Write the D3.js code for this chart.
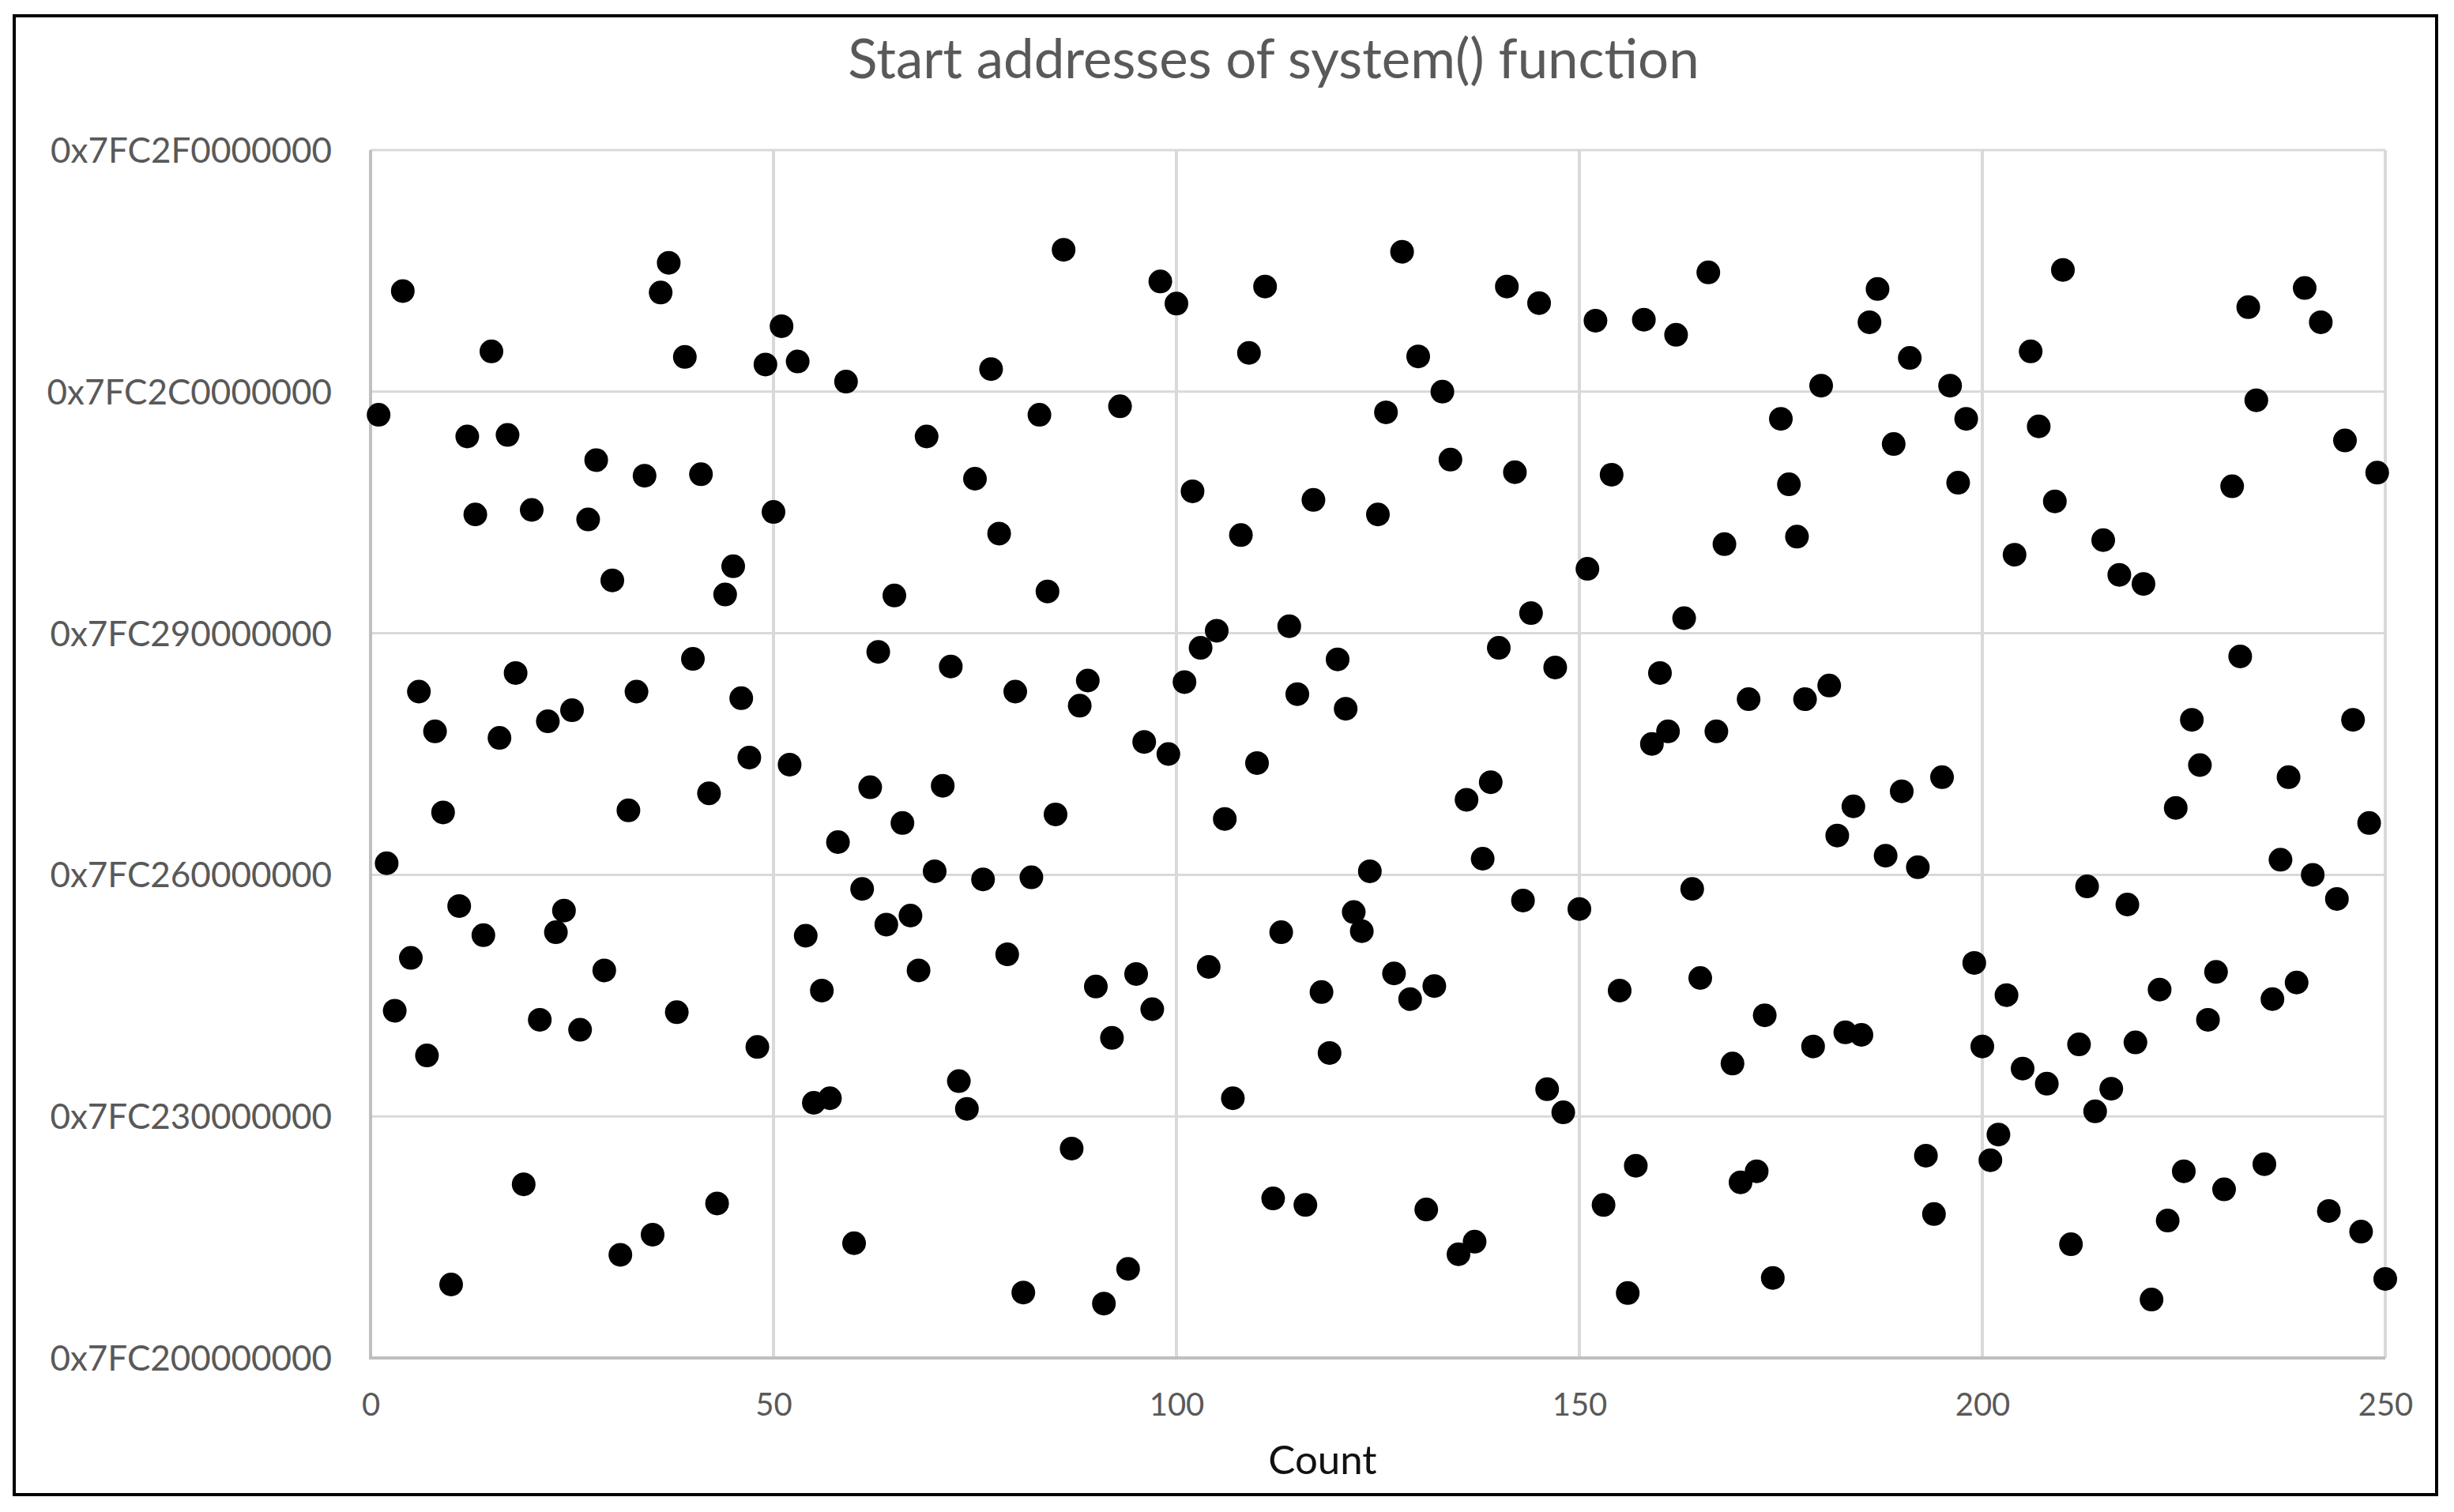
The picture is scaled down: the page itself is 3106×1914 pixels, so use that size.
<!DOCTYPE html>
<html>
<head>
<meta charset="utf-8">
<script src="https://cdn.jsdelivr.net/npm/d3@7"></script>
<style>
  html, body { margin: 0; padding: 0; background: #ffffff; }
  svg { display: block; }
</style>
</head>
<body>
<script>
// ---------- DATA ----------
const chartTitle = "Start addresses of system() function";
const xAxisTitle = "Count";

// x ticks (Count)
const xTickValues = [0, 50, 100, 150, 200, 250];
const xTickLabels = ["0", "50", "100", "150", "200", "250"];

// y ticks: offset from 0x7FC200000000 in units of 0x1000000
const yTickValues = [0, 48, 96, 144, 192, 240];
const yTickLabels = ["0x7FC200000000", "0x7FC230000000", "0x7FC260000000",
                     "0x7FC290000000", "0x7FC2C0000000", "0x7FC2F0000000"];

// start address of system() per run (Count = index + 1),
// expressed as offset from 0x7FC200000000 in units of 0x1000000; null = no point
const addrOffsets = [
  187.4, 98.3, 69.0, 212.0, 79.5, 132.4, 60.1, 124.5, 108.4, 14.6,
  89.8, 183.1, 167.6, 84.0, 200.0, 123.2, 183.4, 136.1, 34.5, 168.5,
  67.2, 126.5, 84.6, 88.9, 128.7, 65.2, 166.6, 178.4, 77.0, 154.5,
  20.5, 108.8, 132.4, 175.3, 24.5, 211.7, 217.6, 68.7, 198.9, 138.9,
  175.6, 112.2, 30.7, 151.7, 157.3, 131.1, 119.3, 61.8, 197.4, 168.1,
  205.0, 117.9, 198.0, 83.9, 50.7, 73.0, 51.6, 102.5, 194.0, 22.8,
  93.2, 113.4, 140.3, 86.1, 151.5, 106.3, 87.9, 77.0, 183.1, 96.7,
  113.7, 137.4, 55.0, 49.5, 174.7, 95.1, 196.5, 163.8, 80.2, 132.4,
  13.0, 95.5, 187.4, 152.3, 108.0, 220.2, 41.6, 129.6, 134.6, 73.8,
  10.8, 63.6, 189.1, 17.7, 76.3, 122.4, 69.3, 213.9, 120.0, 209.5,
  134.3, 172.2, 141.1, 77.7, 144.5, 107.1, 51.6, 163.5, 199.7, 118.2,
  212.9, 31.7, 84.6, 145.4, 131.9, 30.4, 170.5, 72.7, 60.6, 138.8,
  129.0, 88.6, 84.8, 96.7, 167.6, 187.9, 76.4, 219.8, 71.3, 199.0,
  29.5, 73.9, 192.0, 178.5, 20.6, 110.9, 23.1, 99.2, 114.4, 141.1,
  212.9, 176.0, 90.9, 148.0, 209.6, 53.4, 137.2, 48.8, null, 89.2,
  156.8, 206.1, 30.4, 175.5, 73.0, 12.9, 38.2, 206.3, 122.0, 136.1,
  124.5, 203.3, 147.0, 93.2, 75.5, 215.7, 124.5, 161.7, 58.5, 34.9,
  130.9, 37.1, 68.1, 15.9, 186.6, 173.6, 163.2, 130.9, 61.9, 193.2,
  133.6, 103.8, 64.7, 109.6, 64.2, 205.8, 212.4, 99.8, 181.6, 112.6,
  198.7, 97.5, 40.2, 28.6, 115.4, 193.2, 173.9, 186.6, 78.5, 61.9,
  39.3, 44.4, 72.1, 159.6, 57.5, 200.0, 185.1, 54.5, 170.2, 216.2,
  22.6, 62.3, 93.7, 49.0, 162.5, 53.5, 155.6, 90.1, 62.7, 153.8,
  11.6, 73.2, 27.3, 109.3, 37.1, 126.8, 117.8, 67.2, 76.7, 33.5,
  173.2, 139.4, 208.8, 190.3, 38.5, 71.3, 99.0, 115.4, 74.6, 212.6,
  96.0, 205.8, 29.2, 91.2, 182.3, 126.8, 25.1, 106.3, 175.9, 15.7
];

// ---------- LAYOUT ----------
const W = 3106, H = 1914;
const plot = { left: 469, right: 3019, top: 190, bottom: 1719 };
const FONT = "Lato, 'Open Sans', 'DejaVu Sans', sans-serif";

const svg = d3.select("body").append("svg")
  .attr("width", W).attr("height", H)
  .attr("viewBox", `0 0 ${W} ${H}`);

svg.append("rect").attr("x", 0).attr("y", 0).attr("width", W).attr("height", H).attr("fill", "#ffffff");

// outer chart border
svg.append("rect")
  .attr("x", 18).attr("y", 20)
  .attr("width", 3084 - 18).attr("height", 1892 - 20)
  .attr("fill", "none").attr("stroke", "#000000").attr("stroke-width", 4);

const x = d3.scaleLinear().domain([0, 250]).range([plot.left, plot.right]);
const y = d3.scaleLinear().domain([0, 240]).range([plot.bottom, plot.top]);

// gridlines
const grid = svg.append("g").attr("class", "grid");
grid.selectAll("line.h").data(yTickValues.filter(v => v !== 0)).join("line")
  .attr("class", "h")
  .attr("x1", x(0)).attr("x2", x(250))
  .attr("y1", d => y(d)).attr("y2", d => y(d))
  .attr("stroke", "#d9d9d9").attr("stroke-width", 3);
grid.selectAll("line.v").data(xTickValues.filter(v => v !== 0)).join("line")
  .attr("class", "v")
  .attr("x1", d => x(d)).attr("x2", d => x(d))
  .attr("y1", y(0)).attr("y2", y(240))
  .attr("stroke", "#d9d9d9").attr("stroke-width", 4);

// axes
const yAxis = d3.axisLeft(y)
  .tickValues(yTickValues)
  .tickFormat((d, i) => yTickLabels[i])
  .tickSize(0).tickPadding(49);
const gy = svg.append("g").attr("transform", `translate(${plot.left},0)`).call(yAxis);
gy.select(".domain").remove();
gy.selectAll("text")
  .attr("font-family", FONT).attr("font-size", 44).attr("fill", "#595959")
  .attr("dy", "0.35em");

const xAxis = d3.axisBottom(x)
  .tickValues(xTickValues)
  .tickFormat((d, i) => xTickLabels[i])
  .tickSize(0).tickPadding(45);
const gx = svg.append("g").attr("transform", `translate(0,${plot.bottom})`).call(xAxis);
gx.select(".domain").remove();
gx.selectAll("text")
  .attr("font-family", FONT).attr("font-size", 40).attr("fill", "#595959");

// axis lines
svg.append("line")
  .attr("x1", x(0)).attr("x2", x(0)).attr("y1", y(0) + 2).attr("y2", y(240))
  .attr("stroke", "#bfbfbf").attr("stroke-width", 4);
svg.append("line")
  .attr("x1", x(0) - 2).attr("x2", x(250)).attr("y1", y(0)).attr("y2", y(0))
  .attr("stroke", "#bfbfbf").attr("stroke-width", 4);

// points
const pts = addrOffsets.map((v, i) => ({ count: i + 1, v }))
  .filter(d => d.v !== null);
svg.append("g").selectAll("circle").data(pts).join("circle")
  .attr("cx", d => x(d.count))
  .attr("cy", d => y(d.v))
  .attr("r", 15)
  .attr("fill", "#000000");

// title
svg.append("text")
  .attr("x", 1612).attr("y", 99)
  .attr("text-anchor", "middle")
  .attr("font-family", FONT).attr("font-size", 69)
  .attr("fill", "#595959")
  .text(chartTitle);

// x axis title
svg.append("text")
  .attr("x", 1674).attr("y", 1866)
  .attr("text-anchor", "middle")
  .attr("font-family", FONT).attr("font-size", 51)
  .attr("fill", "#111111")
  .text(xAxisTitle);
</script>
</body>
</html>
